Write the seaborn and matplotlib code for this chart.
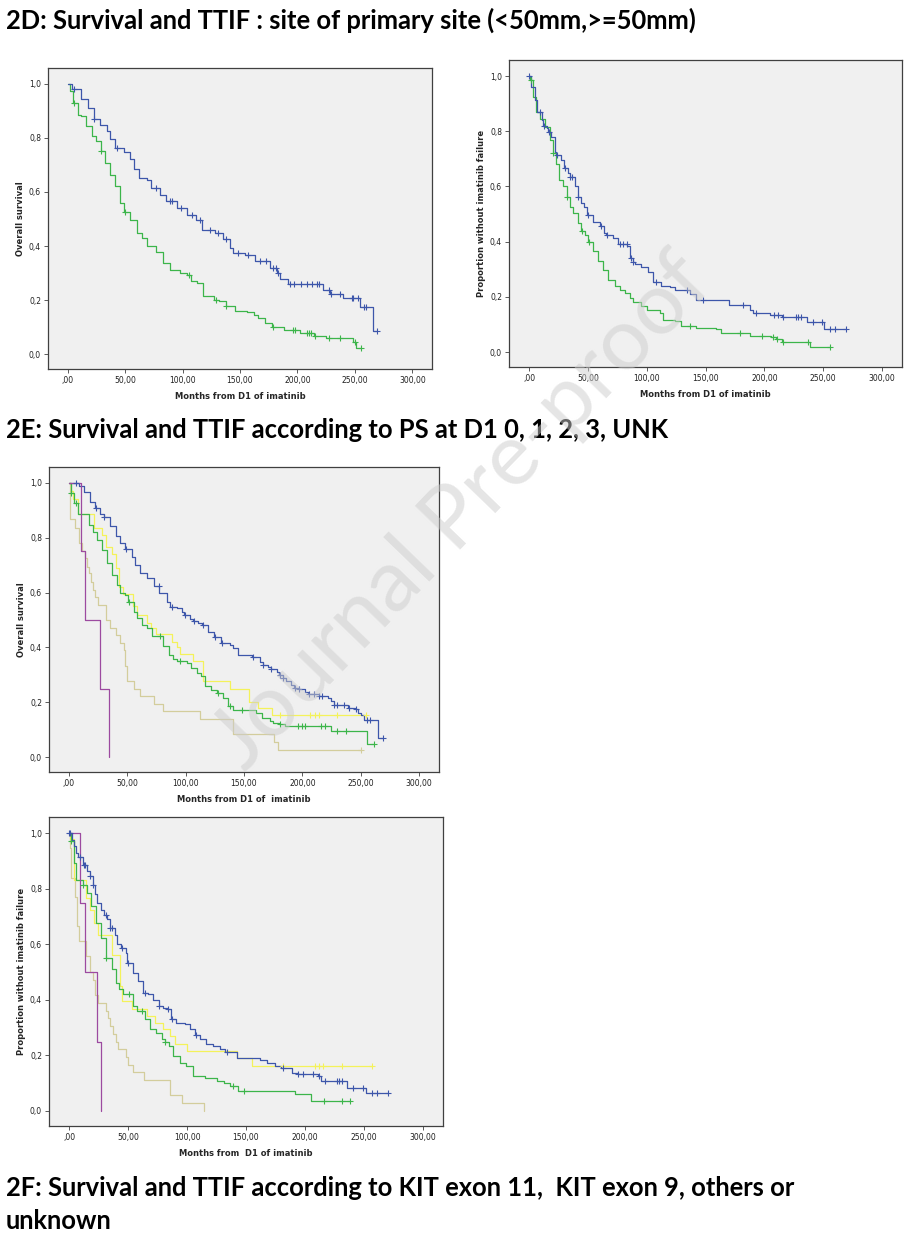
import matplotlib
matplotlib.use("Agg")
import matplotlib.pyplot as plt
from matplotlib.ticker import FuncFormatter
import pandas as pd
import seaborn as sns
import numpy as np

# ---- 2D : overall survival (<50mm blue, >=50mm green)
os_blue_t = [3.5, 12, 18, 23, 28, 34, 37, 41, 49, 54, 58, 62, 69, 73, 80, 86, 95, 104, 112, 117,
             128, 135, 141, 144, 154, 163, 176, 182, 185, 192, 222, 228, 240, 254, 265.5]
os_blue_s = [0.979, 0.942, 0.911, 0.870, 0.849, 0.825, 0.794, 0.763, 0.747, 0.72, 0.686, 0.652, 0.646,
             0.615, 0.59, 0.565, 0.54, 0.516, 0.496, 0.46, 0.448, 0.427, 0.393, 0.375, 0.368, 0.346,
             0.318, 0.30, 0.28, 0.259, 0.237, 0.222, 0.207, 0.176, 0.088]
os_blue_c = [5.5, 23, 43, 77, 89, 91, 99, 108, 115, 124, 131, 138, 148, 157, 167, 173, 179, 181, 183,
             193.5, 197, 203, 208, 213, 217, 219, 227, 229, 237, 247, 248, 253, 258, 260, 269]

os_green_t = [2, 5, 9, 12, 16, 21, 25, 29, 32.5, 37, 41, 45.5, 49, 54, 60, 64.5, 69, 77, 83, 89, 98,
              104, 107, 113, 118, 127, 132, 138, 146, 156, 162, 166, 172, 178, 188, 202, 214, 225, 248, 251]
os_green_s = [0.973, 0.93, 0.886, 0.88, 0.843, 0.806, 0.788, 0.75, 0.707, 0.664, 0.621, 0.559, 0.525,
              0.497, 0.448, 0.43, 0.399, 0.377, 0.338, 0.312, 0.302, 0.294, 0.27, 0.264, 0.214, 0.202,
              0.196, 0.177, 0.16, 0.158, 0.146, 0.133, 0.115, 0.102, 0.09, 0.078, 0.069, 0.06, 0.044, 0.022]
os_green_c = [5.5, 29.5, 50, 106, 129, 138, 179, 196, 198, 208, 210, 212, 215, 227, 237, 250, 255]

# ---- 2D : time to imatinib failure
tt_blue_t = [2, 5, 7, 11, 12, 15, 16.5, 19, 22, 23, 27.5, 30, 33, 34.5, 39, 41.5, 44, 47, 49.5, 54.5,
             60, 64, 65.5, 71.5, 76, 83.5, 86, 88, 90, 95.5, 101, 105, 112.5, 119.5, 124, 136.5, 142,
             170, 188, 190.5, 205, 215, 236, 251]
tt_blue_s = [0.96, 0.912, 0.87, 0.84, 0.818, 0.81, 0.798, 0.78, 0.726, 0.713, 0.695, 0.665, 0.647, 0.635,
             0.601, 0.56, 0.539, 0.527, 0.497, 0.473, 0.455, 0.43, 0.425, 0.413, 0.392, 0.383, 0.34,
             0.327, 0.318, 0.31, 0.29, 0.253, 0.241, 0.235, 0.226, 0.21, 0.19, 0.172, 0.154, 0.142,
             0.136, 0.128, 0.11, 0.082]
tt_blue_c = [0, 9, 12.5, 17, 24, 31, 35, 36.5, 42, 50, 61.5, 66, 77, 80, 83, 87, 88.5, 108, 134, 148,
             182, 193, 208, 212, 216, 227, 229, 231, 241, 249, 256, 260, 269]

tt_green_t = [1, 3.5, 6, 9.5, 14, 17.5, 20, 23, 25.5, 29, 32, 34.5, 37.5, 41.5, 44.5, 47.5, 50.5, 54.5,
              58.5, 63, 67, 73, 77, 81.5, 85.5, 88.5, 95.5, 100, 111, 114, 124, 129.5, 142, 159, 163.5,
              188, 206, 210, 215, 239]
tt_green_s = [0.985, 0.924, 0.87, 0.846, 0.816, 0.768, 0.722, 0.683, 0.623, 0.60, 0.563, 0.527, 0.503,
              0.467, 0.437, 0.425, 0.397, 0.365, 0.329, 0.298, 0.262, 0.238, 0.226, 0.214, 0.196, 0.18,
              0.166, 0.154, 0.142, 0.118, 0.112, 0.096, 0.088, 0.082, 0.07, 0.06, 0.054, 0.046, 0.036, 0.019]
tt_green_c = [1.5, 20.5, 32, 45, 51, 137, 179, 198, 207.5, 211, 216, 237.5, 256]

# ---- 2E : overall survival by PS (0 blue, 1 green, 2 yellow, 3 purple, UNK tan)
ps_os_0_t = [8.5, 13, 18, 22, 27, 30, 35.5, 40, 44, 48, 54, 57, 61, 67, 72.5, 77.5, 84, 87, 92.5, 97,
             99, 104, 106, 111, 114, 119.5, 124, 130, 138, 141, 145, 156.5, 163.5, 166, 170.5, 173,
             178, 180, 183, 186, 190.5, 193, 197, 202, 205, 214, 222, 224.5, 227, 239, 245, 247.5,
             250, 253, 265]
ps_os_0_s = [0.99, 0.967, 0.93, 0.91, 0.888, 0.876, 0.842, 0.806, 0.78, 0.758, 0.731, 0.70, 0.67, 0.652,
             0.624, 0.598, 0.567, 0.549, 0.543, 0.531, 0.519, 0.503, 0.495, 0.488, 0.482, 0.458, 0.44,
             0.418, 0.41, 0.397, 0.373, 0.367, 0.348, 0.337, 0.327, 0.322, 0.312, 0.30, 0.29, 0.277,
             0.265, 0.253, 0.25, 0.237, 0.23, 0.222, 0.216, 0.204, 0.19, 0.18, 0.176, 0.16, 0.153,
             0.137, 0.07]
ps_os_0_c = [6.5, 23, 30.5, 49, 77, 88, 99.5, 107, 115, 125, 131, 158, 166, 173.5, 180.5, 183.5, 193.5,
             197.5, 206, 210, 214.5, 217, 227.5, 230, 236, 240, 246, 255, 258, 269]

ps_os_1_t = [1.5, 4, 8, 17, 21, 24, 28.5, 33, 37, 41, 44, 48.5, 51, 55.5, 58.5, 62.5, 67, 71, 81, 85.5,
             89.5, 93, 101, 105, 109.5, 113.5, 116.5, 122, 127, 132, 136, 141, 160.5, 165, 172, 175,
             180, 185, 224.5, 255]
ps_os_1_s = [0.964, 0.925, 0.888, 0.846, 0.822, 0.792, 0.755, 0.707, 0.664, 0.628, 0.598, 0.592, 0.564,
             0.531, 0.507, 0.482, 0.47, 0.442, 0.404, 0.373, 0.358, 0.349, 0.343, 0.325, 0.307, 0.295,
             0.258, 0.246, 0.234, 0.216, 0.185, 0.171, 0.161, 0.143, 0.131, 0.125, 0.121, 0.113, 0.094, 0.048]
ps_os_1_c = [1.5, 6, 51.5, 78, 95.5, 128, 138, 148, 180.5, 196, 200, 202, 216, 219, 230, 237.5, 261]

ps_os_2_t = [1.5, 3.5, 7.5, 21.3, 28.5, 32, 37, 40, 42.7, 46, 55, 58.5, 67, 70, 75, 88, 92.5, 95.5,
             106.5, 114.5, 138, 154, 162, 174]
ps_os_2_s = [0.97, 0.94, 0.887, 0.834, 0.81, 0.765, 0.74, 0.69, 0.62, 0.594, 0.55, 0.52, 0.49, 0.47,
             0.45, 0.42, 0.40, 0.375, 0.35, 0.276, 0.248, 0.203, 0.179, 0.152]
ps_os_2_c = [180.5, 206.5, 210.5, 214.5, 230, 254.5]

ps_os_3_t = [10, 14.2, 27, 34]
ps_os_3_s = [0.75, 0.5, 0.25, 0.0]
ps_os_3_c = []

ps_os_u_t = [1.4, 5.1, 9.1, 11, 14.2, 15.6, 17, 19, 20.5, 22, 25, 32, 35.5, 40, 44, 47, 48.5, 50, 55.5,
             61, 73, 81, 112.5, 141, 175.5, 179]
ps_os_u_s = [0.87, 0.836, 0.78, 0.75, 0.727, 0.695, 0.673, 0.64, 0.61, 0.584, 0.556, 0.50, 0.472, 0.444,
             0.417, 0.389, 0.333, 0.278, 0.25, 0.222, 0.194, 0.167, 0.139, 0.083, 0.056, 0.028]
ps_os_u_c = [250]

# ---- 2E : time to imatinib failure by PS
ps_tt_0_t = [2.5, 4, 6, 8, 12, 15, 17.5, 20, 22, 23.5, 27.5, 30, 32.5, 34.5, 39, 41, 44, 48, 49.5, 54.5,
             58.5, 63, 67, 71.5, 76, 80, 83, 86, 91, 98, 102.5, 107, 111, 116.5, 122, 128, 132, 142,
             162, 167.5, 175, 180, 189, 194, 211, 214, 235.5, 252]
ps_tt_0_s = [0.975, 0.953, 0.93, 0.915, 0.887, 0.863, 0.845, 0.812, 0.78, 0.75, 0.725, 0.704, 0.69, 0.66,
             0.635, 0.60, 0.587, 0.57, 0.534, 0.498, 0.468, 0.426, 0.42, 0.40, 0.377, 0.372, 0.366, 0.33,
             0.318, 0.312, 0.294, 0.273, 0.258, 0.24, 0.234, 0.222, 0.212, 0.192, 0.183, 0.174, 0.162,
             0.156, 0.138, 0.134, 0.126, 0.108, 0.084, 0.064]
ps_tt_0_c = [0, 1, 9, 12.5, 13.5, 18, 20.5, 31, 35, 36, 45, 50, 64, 76.5, 84, 87, 108, 133.5, 181, 194.5,
             198.5, 207, 211.5, 217, 227, 229, 231, 241, 249, 257, 261, 270]

ps_tt_1_t = [1.5, 4, 5.7, 12, 15, 19, 23, 27.5, 31, 36, 39.5, 42.5, 46, 54.5, 58, 64, 68.5, 74, 78.5, 81,
             85, 88.5, 94, 99.5, 105, 115, 125, 131, 136.5, 143.5, 191.5, 205.5]
ps_tt_1_s = [0.97, 0.893, 0.83, 0.812, 0.785, 0.737, 0.677, 0.623, 0.552, 0.51, 0.462, 0.438, 0.42, 0.378,
             0.36, 0.33, 0.294, 0.282, 0.258, 0.248, 0.234, 0.198, 0.172, 0.162, 0.126, 0.12, 0.108,
             0.102, 0.09, 0.072, 0.06, 0.036]
ps_tt_1_c = [1.5, 12, 31.5, 51, 61.5, 81, 139, 148, 216.5, 231, 238]

ps_tt_2_t = [0.5, 4, 14, 17.5, 21, 24.5, 36, 43, 45, 53, 66, 73, 80, 85.5, 90, 100, 142.5, 155]
ps_tt_2_s = [0.98, 0.83, 0.767, 0.725, 0.678, 0.635, 0.563, 0.45, 0.395, 0.366, 0.342, 0.318, 0.294,
             0.27, 0.24, 0.216, 0.192, 0.162]
ps_tt_2_c = [181.5, 208.5, 211.5, 215.5, 231, 256.5]

ps_tt_3_t = [9.3, 13.9, 24, 27.5]
ps_tt_3_s = [0.75, 0.5, 0.25, 0.0]
ps_tt_3_c = []

ps_tt_u_t = [1, 2, 5, 7, 8.5, 14, 17.5, 20, 22, 24.5, 31, 33, 35, 37.5, 39.5, 41.5, 48, 50, 54, 63.5,
             85.5, 96, 114]
ps_tt_u_s = [0.945, 0.84, 0.77, 0.667, 0.61, 0.556, 0.5, 0.472, 0.417, 0.389, 0.361, 0.333, 0.306,
             0.278, 0.25, 0.222, 0.194, 0.167, 0.139, 0.111, 0.056, 0.028, 0.0]
ps_tt_u_c = []

x_ticks = [0, 50, 100, 150, 200, 250, 300]
y_ticks = [0.0, 0.2, 0.4, 0.6, 0.8, 1.0]

BLUE = "#3d56aa"
GREEN = "#3cb54a"
YELLOW = "#f4f25a"
PURPLE = "#9c4aa0"
TAN = "#d3cd9c"

headings = [
    ("2D: Survival and TTIF : site of primary site (<50mm,>=50mm)", 20),
    ("2E: Survival and TTIF according to PS at D1 0, 1, 2, 3, UNK", 430),
    ("2F: Survival and TTIF according to KIT exon 11,  KIT exon 9, others or", 1188),
    ("unknown", 1221),
]

sns.set_style("white", {"axes.facecolor": "#f0f0f0", "axes.edgecolor": "#404040"})
plt.rcParams["font.family"] = ["DejaVu Sans"]

W, H = 909, 1235
fig = plt.figure(figsize=(W / 100, H / 100), dpi=100)


def step_frame(times, surv, cens):
    end = max([times[-1]] + list(cens))
    return pd.DataFrame({"t": [0] + times + [end], "s": [1.0] + surv + [surv[-1]]})


def cens_frame(times, surv, cens):
    idx = np.searchsorted(times, cens, side="right")
    ys = [1.0 if i == 0 else surv[i - 1] for i in idx]
    return pd.DataFrame({"t": cens, "s": ys})


def km_panel(box, curves, ylabel, xlabel):
    x0, y0, x1, y1 = box
    ax = fig.add_axes([x0 / W, 1 - y1 / H, (x1 - x0) / W, (y1 - y0) / H])
    for t, s, c, col in curves:
        sns.lineplot(data=step_frame(t, s, c), x="t", y="s", ax=ax, color=col,
                     drawstyle="steps-post", estimator=None, sort=False, linewidth=0.9)
        if len(c):
            sns.scatterplot(data=cens_frame(t, s, c), x="t", y="s", ax=ax, color=col,
                            marker="+", s=22, linewidth=0.8, zorder=3)
    ax.set_xlim(-17, 317)
    ax.set_ylim(-0.054, 1.058)
    ax.set_xticks(x_ticks)
    ax.set_yticks(y_ticks)
    ax.xaxis.set_major_formatter(FuncFormatter(
        lambda v, p: ",00" if v == 0 else f"{v:.2f}".replace(".", ",")))
    ax.yaxis.set_major_formatter(FuncFormatter(lambda v, p: f"{v:.1f}".replace(".", ",")))
    ax.tick_params(axis="both", direction="out", length=3, width=0.6, color="#404040",
                   labelsize=5.5, labelcolor="#202020", pad=2, left=True, bottom=True)
    for sp in ax.spines.values():
        sp.set_linewidth(0.9)
    ax.set_xlabel(xlabel, fontsize=6, fontweight="bold", labelpad=5)
    ax.set_ylabel(ylabel, fontsize=6, fontweight="bold", labelpad=3)
    return ax


km_panel((48, 68, 432, 369),
         [(os_green_t, os_green_s, os_green_c, GREEN),
          (os_blue_t, os_blue_s, os_blue_c, BLUE)],
         "Overall survival", "Months from D1 of imatinib")
km_panel((509, 60, 902, 367),
         [(tt_green_t, tt_green_s, tt_green_c, GREEN),
          (tt_blue_t, tt_blue_s, tt_blue_c, BLUE)],
         "Proportion without imatinib failure", "Months from D1 of imatinib")
km_panel((49, 467, 439, 772),
         [(ps_os_u_t, ps_os_u_s, ps_os_u_c, TAN),
          (ps_os_2_t, ps_os_2_s, ps_os_2_c, YELLOW),
          (ps_os_1_t, ps_os_1_s, ps_os_1_c, GREEN),
          (ps_os_0_t, ps_os_0_s, ps_os_0_c, BLUE),
          (ps_os_3_t, ps_os_3_s, ps_os_3_c, PURPLE)],
         "Overall survival", "Months from D1 of  imatinib")
km_panel((49, 817, 443, 1126),
         [(ps_tt_u_t, ps_tt_u_s, ps_tt_u_c, TAN),
          (ps_tt_2_t, ps_tt_2_s, ps_tt_2_c, YELLOW),
          (ps_tt_1_t, ps_tt_1_s, ps_tt_1_c, GREEN),
          (ps_tt_0_t, ps_tt_0_s, ps_tt_0_c, BLUE),
          (ps_tt_3_t, ps_tt_3_s, ps_tt_3_c, PURPLE)],
         "Proportion without imatinib failure", "Months from  D1 of imatinib")

for txt, yc in headings:
    fig.text(6 / W, 1 - yc / H, txt, ha="left", va="center", fontsize=18.4,
             fontweight="bold", family=["Lato", "DejaVu Sans"], color="black")

fig.text(462 / W, 1 - 512 / H, "Journal Pre-proof", ha="center", va="center",
         rotation=46, fontsize=63, family=["Lato", "DejaVu Sans"],
         color="#cccccc", alpha=0.5, zorder=10)

fig.savefig("out.png", dpi=100)
